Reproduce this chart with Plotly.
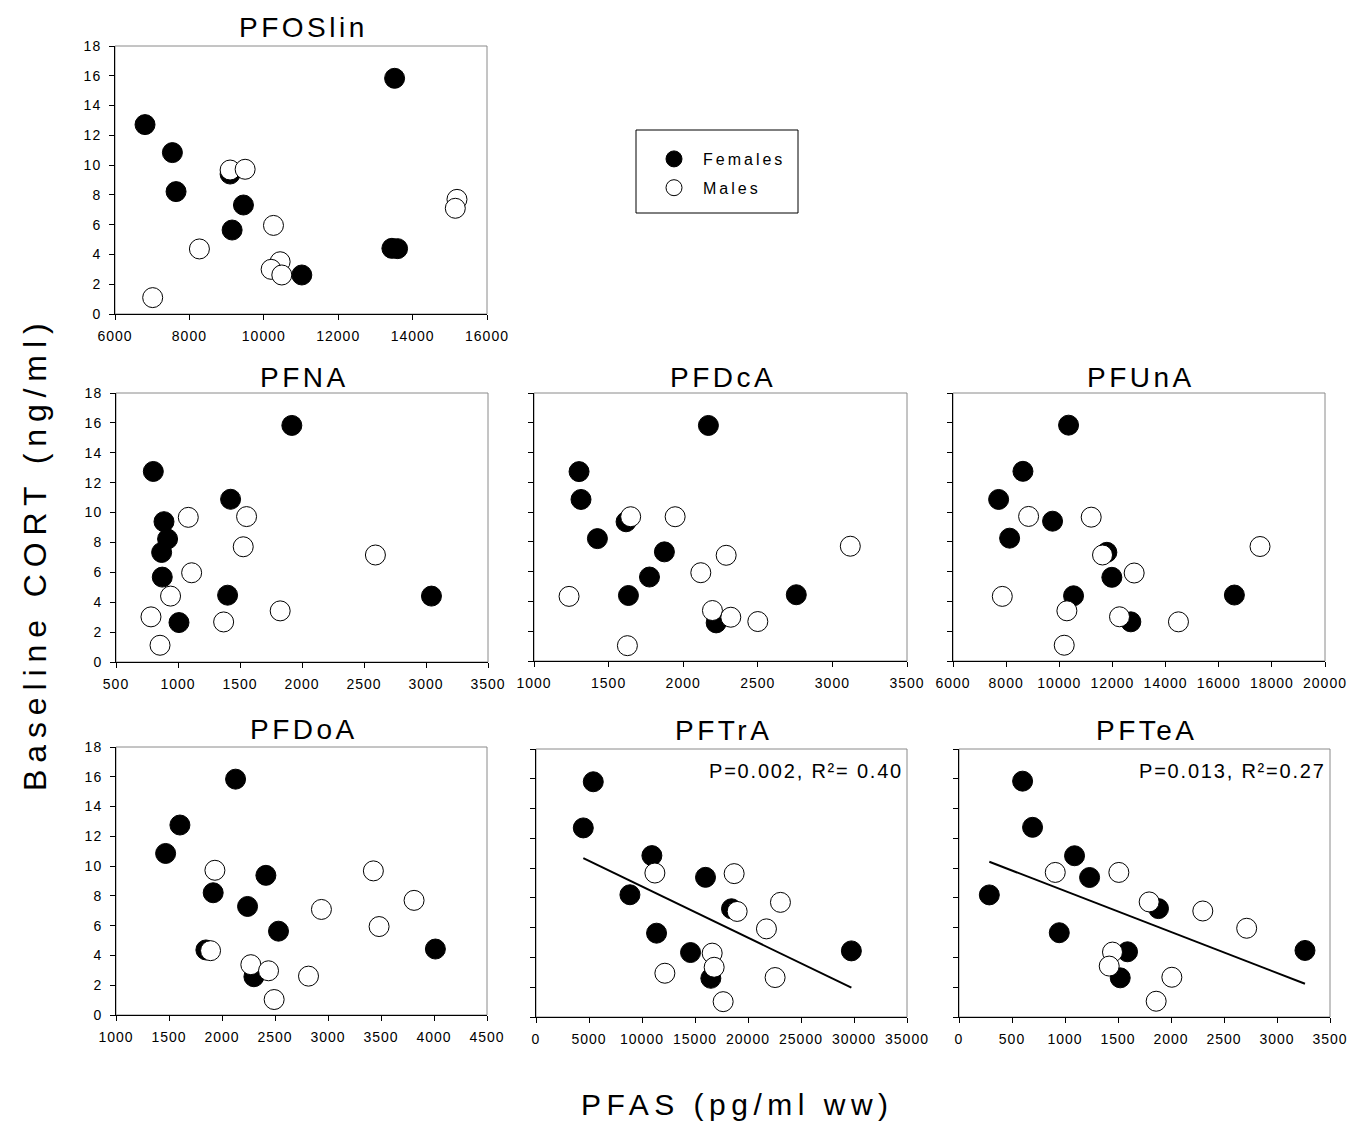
import numpy as np
import plotly.graph_objects as go

# page has an 8px body margin; figure sized so the page is exactly 1360x1148
OFF = 8
W, H = 1360 - 2 * OFF, 1148 - 2 * OFF
FONT = "Liberation Sans, Arial, sans-serif"

# ---------------- data (PFAS pg/ml ww vs baseline CORT ng/ml) ----------------
# PFOSlin
pfoslin_f_x = [6807, 7543, 7641, 9094, 9453, 9148, 13516, 13443, 13596, 11022]
pfoslin_f_y = [12.72, 10.84, 8.22, 9.40, 7.32, 5.64, 15.83, 4.41, 4.39, 2.62]
pfoslin_m_x = [9094, 9498, 15193, 15148, 10260, 8269, 10439, 10197, 10484, 7013]
pfoslin_m_y = [9.67, 9.72, 7.70, 7.10, 5.95, 4.37, 3.51, 3.00, 2.62, 1.10]

# PFNA
pfna_f_x = [801, 1918, 1424, 887, 916, 868, 873, 1400, 3044, 1008]
pfna_f_y = [12.75, 15.83, 10.89, 9.39, 8.23, 7.33, 5.68, 4.47, 4.41, 2.64]
pfna_m_x = [1083, 1553, 1526, 2592, 1110, 940, 1824, 782, 1368, 855]
pfna_m_y = [9.68, 9.73, 7.71, 7.16, 5.97, 4.41, 3.42, 3.02, 2.68, 1.12]

# PFDcA
pfdca_f_x = [2169, 1302, 1315, 1617, 1425, 1874, 1774, 1633, 2758, 2221]
pfdca_f_y = [15.82, 12.72, 10.85, 9.35, 8.22, 7.33, 5.64, 4.40, 4.45, 2.56]
pfdca_m_x = [1648, 1946, 3120, 2288, 2118, 1235, 2196, 2319, 2500, 1626]
pfdca_m_y = [9.69, 9.69, 7.71, 7.10, 5.93, 4.34, 3.39, 2.94, 2.65, 1.03]

# PFUnA
pfuna_f_x = [10349, 8632, 7717, 9747, 8131, 11790, 11978, 10537, 16590, 12693]
pfuna_f_y = [15.84, 12.74, 10.85, 9.39, 8.25, 7.30, 5.62, 4.38, 4.43, 2.63]
pfuna_m_x = [8845, 11201, 17555, 11627, 12818, 7855, 10286, 12266, 14485, 10186]
pfuna_m_y = [9.71, 9.66, 7.69, 7.12, 5.91, 4.34, 3.37, 2.97, 2.63, 1.06]

# PFDoA
pfdoa_f_x = [2128, 1603, 1468, 2414, 1917, 2241, 2533, 1848, 4013, 2301]
pfdoa_f_y = [15.84, 12.76, 10.85, 9.38, 8.21, 7.29, 5.63, 4.37, 4.43, 2.57]
pfdoa_m_x = [1933, 3428, 3812, 2938, 3482, 1892, 2272, 2439, 2816, 2492]
pfdoa_m_y = [9.72, 9.68, 7.70, 7.09, 5.94, 4.32, 3.38, 2.97, 2.61, 1.04]

# PFTrA
pftra_f_x = [5404, 4461, 10933, 15991, 8860, 18442, 11373, 14578, 29752, 16494]
pftra_f_y = [15.80, 12.70, 10.84, 9.38, 8.21, 7.27, 5.63, 4.33, 4.44, 2.60]
pftra_m_x = [11216, 18693, 23060, 18976, 21740, 16620, 16808, 12158, 22557, 17656]
pftra_m_y = [9.67, 9.63, 7.70, 7.09, 5.92, 4.29, 3.34, 2.94, 2.65, 1.03]

# PFTeA
pftea_f_x = [600, 694, 1090, 1232, 286, 1882, 946, 1590, 3264, 1521]
pftea_f_y = [15.84, 12.74, 10.83, 9.37, 8.20, 7.28, 5.66, 4.38, 4.47, 2.63]
pftea_m_x = [908, 1508, 1794, 2300, 2714, 1448, 1417, 2008, 1860]
pftea_m_y = [9.71, 9.71, 7.73, 7.12, 5.96, 4.36, 3.42, 2.67, 1.06]

# tick labels
y_ticks = [0, 2, 4, 6, 8, 10, 12, 14, 16, 18]
pfoslin_x_ticks = [6000, 8000, 10000, 12000, 14000, 16000]
pfna_x_ticks = [500, 1000, 1500, 2000, 2500, 3000, 3500]
pfdca_x_ticks = [1000, 1500, 2000, 2500, 3000, 3500]
pfuna_x_ticks = [6000, 8000, 10000, 12000, 14000, 16000, 18000, 20000]
pfdoa_x_ticks = [1000, 1500, 2000, 2500, 3000, 3500, 4000, 4500]
pftra_x_ticks = [0, 5000, 10000, 15000, 20000, 25000, 30000, 35000]
pftea_x_ticks = [0, 500, 1000, 1500, 2000, 2500, 3000, 3500]

stat_pftra = "P=0.002, R²= 0.40"
stat_pftea = "P=0.013, R²=0.27"

# ---------------- layout helpers ----------------
def sp(text, px):
    return f'<span style="letter-spacing:{px}px">{text}</span>'

def fx_(px):  # page px -> paper x
    return (px - OFF) / W

def fy_(py):  # page px -> paper y
    return 1 - (py - OFF) / H

panels = [
    # name, fx, fy, mx, my, xticks, (left, right, top, bottom) px, ylabels, fit, stat, title y
    ("PFOSlin", pfoslin_f_x, pfoslin_f_y, pfoslin_m_x, pfoslin_m_y, pfoslin_x_ticks, (115, 487, 46, 314), True, False, None, 27),
    ("PFNA", pfna_f_x, pfna_f_y, pfna_m_x, pfna_m_y, pfna_x_ticks, (116, 488, 393, 662), True, False, None, 377),
    ("PFDcA", pfdca_f_x, pfdca_f_y, pfdca_m_x, pfdca_m_y, pfdca_x_ticks, (534, 907, 393, 661), False, False, None, 377),
    ("PFUnA", pfuna_f_x, pfuna_f_y, pfuna_m_x, pfuna_m_y, pfuna_x_ticks, (953, 1325, 393, 661), False, False, None, 377),
    ("PFDoA", pfdoa_f_x, pfdoa_f_y, pfdoa_m_x, pfdoa_m_y, pfdoa_x_ticks, (116, 487, 747, 1015), True, False, None, 729),
    ("PFTrA", pftra_f_x, pftra_f_y, pftra_m_x, pftra_m_y, pftra_x_ticks, (536, 907, 749, 1017), False, True, stat_pftra, 730),
    ("PFTeA", pftea_f_x, pftea_f_y, pftea_m_x, pftea_m_y, pftea_x_ticks, (959, 1330, 749, 1017), False, True, stat_pftea, 730),
]

fig = go.Figure()
layout = dict(
    template="none",
    width=W, height=H,
    margin=dict(l=0, r=0, t=0, b=0, autoexpand=False),
    paper_bgcolor="white", plot_bgcolor="white",
    font=dict(family=FONT, color="black"),
    showlegend=True,
    legend=dict(x=fx_(645), y=fy_(142), xanchor="left", yanchor="top",
                borderwidth=0, bgcolor="rgba(0,0,0,0)",
                itemwidth=48,
                font=dict(size=16, family=FONT, color="black"),
                tracegroupgap=5, traceorder="grouped"),
)
annotations = []
# legend frame
shapes = [dict(type="rect", xref="paper", yref="paper",
               x0=fx_(636), x1=fx_(798), y0=fy_(213), y1=fy_(130),
               line=dict(color="black", width=1), layer="below")]

for i, (name, fx, fy, mx, my, xt, (L, R, T, B), ylab, fit, stat, tyy) in enumerate(panels, start=1):
    xa = "x" if i == 1 else f"x{i}"
    ya = "y" if i == 1 else f"y{i}"
    xkey = "xaxis" if i == 1 else f"xaxis{i}"
    ykey = "yaxis" if i == 1 else f"yaxis{i}"
    layout[xkey] = dict(
        domain=[fx_(L), fx_(R)], anchor=ya, range=[xt[0], xt[-1]], automargin=False,
        tickmode="array", tickvals=xt, ticktext=[sp(str(v), 1) for v in xt],
        ticks="outside", ticklen=5, tickwidth=1, tickcolor="black",
        ticklabelstandoff=4,
        showline=True, linecolor="black", linewidth=1,
        showgrid=False, zeroline=False,
        tickfont=dict(size=14, family=FONT, color="black"),
    )
    layout[ykey] = dict(
        domain=[fy_(B), fy_(T)], anchor=xa, range=[0, 18], automargin=False,
        tickmode="array", tickvals=y_ticks, ticktext=[sp(str(v), 1) for v in y_ticks],
        showticklabels=ylab,
        ticks="outside", ticklen=5, tickwidth=1, tickcolor="black",
        ticklabelstandoff=5,
        showline=True, linecolor="black", linewidth=1,
        showgrid=False, zeroline=False,
        tickfont=dict(size=14, family=FONT, color="black"),
    )
    shapes.append(dict(type="rect", xref=f"{xa} domain", yref=f"{ya} domain",
                       x0=0, x1=1, y0=0, y1=1, layer="below",
                       line=dict(color="#8a8a8a", width=1)))
    if fit:
        allx = np.array(fx + mx, dtype=float)
        ally = np.array(fy + my, dtype=float)
        slope, icpt = np.polyfit(allx, ally, 1)
        lx = np.array([allx.min(), allx.max()])
        fig.add_trace(go.Scatter(x=lx, y=slope * lx + icpt, mode="lines",
                                 line=dict(color="black", width=2),
                                 xaxis=xa, yaxis=ya, showlegend=False, hoverinfo="skip"))
    fig.add_trace(go.Scatter(
        x=fx, y=fy, mode="markers", xaxis=xa, yaxis=ya,
        name=sp("Females", 3), legendgroup="f", showlegend=(i == 1),
        marker=dict(size=20, color="black", line=dict(color="black", width=1)),
    ))
    fig.add_trace(go.Scatter(
        x=mx, y=my, mode="markers", xaxis=xa, yaxis=ya,
        name=sp("Males", 3), legendgroup="m", showlegend=(i == 1),
        marker=dict(size=20, color="white", line=dict(color="black", width=1)),
    ))
    # panel title
    annotations.append(dict(text=sp(name, 3.5), x=fx_((L + R) / 2 + 2), y=fy_(tyy),
                            xref="paper", yref="paper", xanchor="center", yanchor="middle",
                            showarrow=False, font=dict(size=28, family=FONT, color="black")))
    if stat:
        annotations.append(dict(text=sp(stat, 1.8), x=fx_(R - 2), y=fy_(T + 22),
                                xref="paper", yref="paper", xanchor="right", yanchor="middle",
                                showarrow=False, font=dict(size=20, family=FONT, color="black")))

# common axis titles
annotations.append(dict(text=sp("Baseline CORT (ng/ml)", 6.9), x=fx_(35), y=fy_(554),
                        xref="paper", yref="paper", xanchor="center", yanchor="middle",
                        textangle=-90, showarrow=False,
                        font=dict(size=32, family=FONT, color="black")))
annotations.append(dict(text=sp("PFAS (pg/ml ww)", 5.5), x=fx_(737), y=fy_(1104),
                        xref="paper", yref="paper", xanchor="center", yanchor="middle",
                        showarrow=False, font=dict(size=30, family=FONT, color="black")))

layout["annotations"] = annotations
layout["shapes"] = shapes
fig.update_layout(**layout)
fig.write_html("out.html")
